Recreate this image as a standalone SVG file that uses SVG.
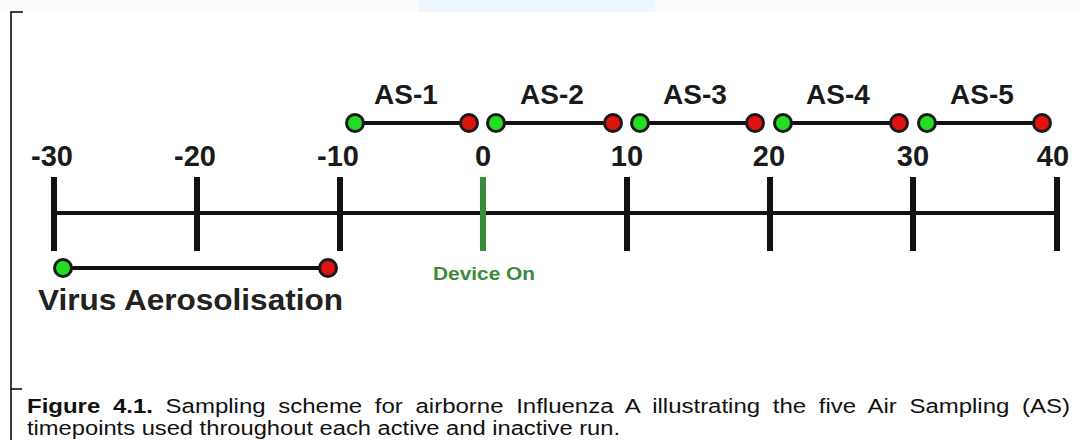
<svg xmlns="http://www.w3.org/2000/svg" width="1081" height="440" viewBox="0 0 1081 440">
<style>
.lbl{font-family:"Liberation Sans",Arial,sans-serif;font-weight:bold;fill:#1a1a1a;text-anchor:middle}
.num{font-size:29px}
.as{font-size:28px}
.axis{stroke:#111;stroke-width:4;fill:none}
.tick{stroke:#111;stroke-width:6}
.seg{stroke:#111;stroke-width:4}
.g{fill:#22dd22;stroke:#1a1a1a;stroke-width:3}
.r{fill:#e01212;stroke:#1a1a1a;stroke-width:3}
.cap{font-family:"Liberation Sans",Arial,sans-serif;font-size:20px;fill:#111}
</style>
<rect width="1081" height="440" fill="#ffffff"/>
<rect x="0" y="0" width="1081" height="12" fill="#fcfcfc"/>
<rect x="418" y="0" width="237" height="12" fill="#eef7fe"/>
<g id="frame" stroke="#000" stroke-width="1.5" fill="none">
<path d="M11,440 V12 H23"/>
<path d="M11,389 H22"/>
</g>
<g id="connectors">
<line class="axis" x1="54" y1="213" x2="1057" y2="213"/>
<line class="seg" x1="355" y1="123" x2="469" y2="123"/>
<line class="seg" x1="496" y1="123" x2="613" y2="123"/>
<line class="seg" x1="640" y1="123" x2="755" y2="123"/>
<line class="seg" x1="783" y1="123" x2="899" y2="123"/>
<line class="seg" x1="927" y1="123" x2="1042" y2="123"/>
<line class="seg" x1="63" y1="268" x2="328" y2="268"/>
</g>
<g id="ticks">
<line class="tick" x1="54" y1="177" x2="54" y2="251"/>
<line class="tick" x1="197" y1="177" x2="197" y2="251"/>
<line class="tick" x1="340" y1="177" x2="340" y2="251"/>
<line class="tick" x1="483" y1="177" x2="483" y2="251" style="stroke:#3a8c3a"/>
<line class="tick" x1="627" y1="177" x2="627" y2="251"/>
<line class="tick" x1="770" y1="177" x2="770" y2="251"/>
<line class="tick" x1="913" y1="177" x2="913" y2="251"/>
<line class="tick" x1="1057" y1="177" x2="1057" y2="251"/>
</g>
<g id="numbers">
<text class="lbl num" x="52" y="166">-30</text>
<text class="lbl num" x="195" y="166">-20</text>
<text class="lbl num" x="338" y="166">-10</text>
<text class="lbl num" x="483" y="166">0</text>
<text class="lbl num" x="627" y="166">10</text>
<text class="lbl num" x="769" y="166">20</text>
<text class="lbl num" x="913" y="166">30</text>
<text class="lbl num" x="1053" y="166">40</text>
</g>
<g id="as1"><text class="lbl as" x="406" y="104">AS-1</text><circle class="g" cx="355" cy="123" r="8.5"/><circle class="r" cx="469" cy="123" r="8.5"/></g>
<g id="as2"><text class="lbl as" x="552" y="104">AS-2</text><circle class="g" cx="496" cy="123" r="8.5"/><circle class="r" cx="613" cy="123" r="8.5"/></g>
<g id="as3"><text class="lbl as" x="695" y="104">AS-3</text><circle class="g" cx="640" cy="123" r="8.5"/><circle class="r" cx="755" cy="123" r="8.5"/></g>
<g id="as4"><text class="lbl as" x="838" y="104">AS-4</text><circle class="g" cx="783" cy="123" r="8.5"/><circle class="r" cx="899" cy="123" r="8.5"/></g>
<g id="as5"><text class="lbl as" x="982" y="104">AS-5</text><circle class="g" cx="927" cy="123" r="8.5"/><circle class="r" cx="1042" cy="123" r="8.5"/></g>
<g id="virus"><circle class="g" cx="63" cy="268" r="8.5"/><circle class="r" cx="328" cy="268" r="8.5"/>
<text class="lbl" x="38" y="310" style="text-anchor:start;font-size:30px;fill:#222" textLength="305" lengthAdjust="spacingAndGlyphs">Virus Aerosolisation</text></g>
<g id="device"><text class="lbl" x="484" y="280" style="font-size:19px;fill:#3a8c3a" textLength="102" lengthAdjust="spacingAndGlyphs">Device On</text></g>
<g id="caption">
<text class="cap" x="27" y="413" textLength="1043" lengthAdjust="spacingAndGlyphs" word-spacing="5"><tspan font-weight="bold">Figure 4.1.</tspan> Sampling scheme for airborne Influenza A illustrating the five Air Sampling (AS)</text>
<text class="cap" x="27" y="435" textLength="593" lengthAdjust="spacingAndGlyphs">timepoints used throughout each active and inactive run.</text>
</g>
</svg>
